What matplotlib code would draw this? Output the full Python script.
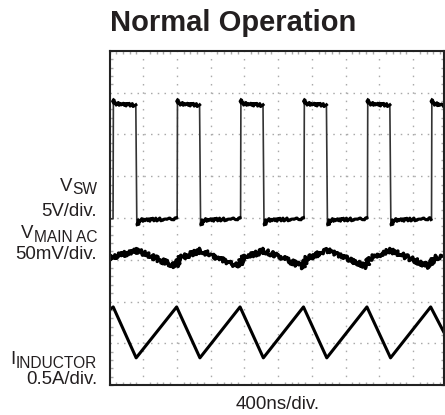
import matplotlib
matplotlib.use("Agg")
import matplotlib.pyplot as plt
from matplotlib.ticker import MultipleLocator

plt.rcParams['font.family'] = ['Liberation Sans', 'DejaVu Sans']

# ==========================================
# DATA (screen divisions: x 0..9.9, y 0..8)
# ==========================================
# switch node V_SW edges and levels
sw_rise = [0.11, 2.01, 3.89, 5.77, 7.65, 9.55]
sw_fall = [0.79, 2.68, 4.56, 6.44, 8.32]
sw_high_peak, sw_high, sw_high_end = 6.83, 6.74, 6.70
sw_low_dip, sw_low, sw_low_end = 3.84, 3.95, 3.98

# output ripple V_MAIN AC
vm_peak_t = [0.81, 2.69, 4.57, 6.45, 8.33]
vm_trough_t = [1.96, 3.85, 5.72, 7.61, 9.49]
vm_peak, vm_trough, vm_jump = 3.22, 2.84, 3.02
vm_start, vm_end = 3.04, 3.11

# inductor current
il_peak_t = [0.11, 1.99, 3.87, 5.75, 7.63, 9.52]
il_trough_t = [0.79, 2.68, 4.56, 6.44, 8.33]
il_peak, il_trough = 1.87, 0.65
il_start, il_end = 1.80, 1.28

# channel labels: (main, subscript, baseline px)
chan_labels = [('V', 'SW', 191), ('V', 'MAIN AC', 238),
               ('I', 'INDUCTOR', 364)]
scale_labels = [('5V/div.', 216), ('50mV/div.', 259), ('0.5A/div.', 384)]

X_MAX = 9.9

# ==========================================
# BUILD TRACES FROM KEY POINTS
# ==========================================
# V_SW
sw_t, sw_v = [0.0], [sw_low_end]
flat_segs = []
for i, r in enumerate(sw_rise):
  sw_t += [r - 0.005, r + 0.005, r + 0.06]
  sw_v += [sw_low_end, sw_high_peak, sw_high]
  if i < len(sw_fall):
    f = sw_fall[i]
    sw_t += [f - 0.01, f + 0.02, f + 0.08]
    sw_v += [sw_high_end, sw_low_dip, sw_low]
    flat_segs.append(([r + 0.01, r + 0.06, f - 0.01],
                      [sw_high_peak, sw_high, sw_high_end]))
    nxt = sw_rise[i + 1]
    sw_t += [nxt - 0.02]
    sw_v += [sw_low_end]
    flat_segs.append(([f + 0.03, f + 0.08, nxt - 0.02],
                      [sw_low_dip, sw_low, sw_low_end]))
  else:
    sw_t += [X_MAX]
    sw_v += [sw_high_end]
    flat_segs.append(([r + 0.01, r + 0.06, X_MAX],
                      [sw_high_peak, sw_high, sw_high_end]))

# V_MAIN AC
vm_t, vm_v = [0.0], [vm_start]
for i, p in enumerate(vm_peak_t):
  vm_t += [p]
  vm_v += [vm_peak]
  tr = vm_trough_t[i]
  r = sw_rise[i + 1]
  vm_t += [tr, r, r + 0.02]
  vm_v += [vm_trough, vm_trough + 0.03, vm_jump]
vm_t += [X_MAX]
vm_v += [vm_end]

# inductor
il_t, il_v = [0.0], [il_start]
for i, p in enumerate(il_peak_t):
  il_t.append(p)
  il_v.append(il_peak)
  if i < len(il_trough_t):
    il_t.append(il_trough_t[i])
    il_v.append(il_trough)
il_t.append(X_MAX)
il_v.append(il_end)

# ==========================================
# PLOT
# ==========================================
W, H = 445, 415
TXT = '#231f20'
fig = plt.figure(figsize=(W / 100, H / 100), dpi=100)
ax = fig.add_axes([109.5 / W, (H - 385) / H, 334 / W, 334 / H])
ax.set_xlim(0, X_MAX)
ax.set_ylim(0, 8)

ax.set_xticks(range(1, 10))
ax.set_yticks(range(1, 8))
ax.xaxis.set_minor_locator(MultipleLocator(0.2))
ax.yaxis.set_minor_locator(MultipleLocator(0.2))
ax.tick_params(which='both', direction='in', top=True, right=True,
               labelbottom=False, labelleft=False, color='#aaaaaa',
               width=1.0)
ax.tick_params(which='major', length=0)
ax.tick_params(which='minor', length=2)
ax.grid(axis='x', color='#aaaaaa', linewidth=1.0,
        linestyle=(0, (1.1, 4.9)))
ax.grid(axis='y', color='#aaaaaa', linewidth=1.0,
        linestyle=(0, (1.1, 3.76)))
for s in ax.spines.values():
  s.set_linewidth(1.5)
  s.set_color('#222222')

ax.plot(sw_t, sw_v, color='#333333', linewidth=1.2)
for xs, ys in flat_segs:
  ln, = ax.plot(xs, ys, color='black', linewidth=2.2)
  ln.set_sketch_params(1.5, 2.0, 2)
ln, = ax.plot(vm_t, vm_v, color='black', linewidth=2.5)
ln.set_sketch_params(2.4, 1.3, 2)
ax.plot(il_t, il_v, color='black', linewidth=2.2)

fig.text(233 / W, 1 - 31 / H, 'Normal Operation', ha='center',
         va='baseline', fontsize=21, fontweight='bold', color=TXT)

# channel names with large subscripts, right aligned at x=97px
renderer = fig.canvas.get_renderer()
for main, sub, y in chan_labels:
  st = fig.text(97 / W, 1 - (y + 3.5) / H, sub, ha='right', va='baseline',
                fontsize=11.2, color=TXT)
  bb = st.get_window_extent(renderer)
  fig.text(bb.x0 / W, 1 - y / H, main, ha='right', va='baseline',
           fontsize=13.4, color=TXT)
for txt, y in scale_labels:
  fig.text(97 / W, 1 - y / H, txt, ha='right', va='baseline',
           fontsize=13.4, color=TXT)
fig.text(278 / W, 1 - 409 / H, '400ns/div.', ha='center', va='baseline',
         fontsize=13.5, color=TXT)

fig.savefig('out.png', dpi=100)
